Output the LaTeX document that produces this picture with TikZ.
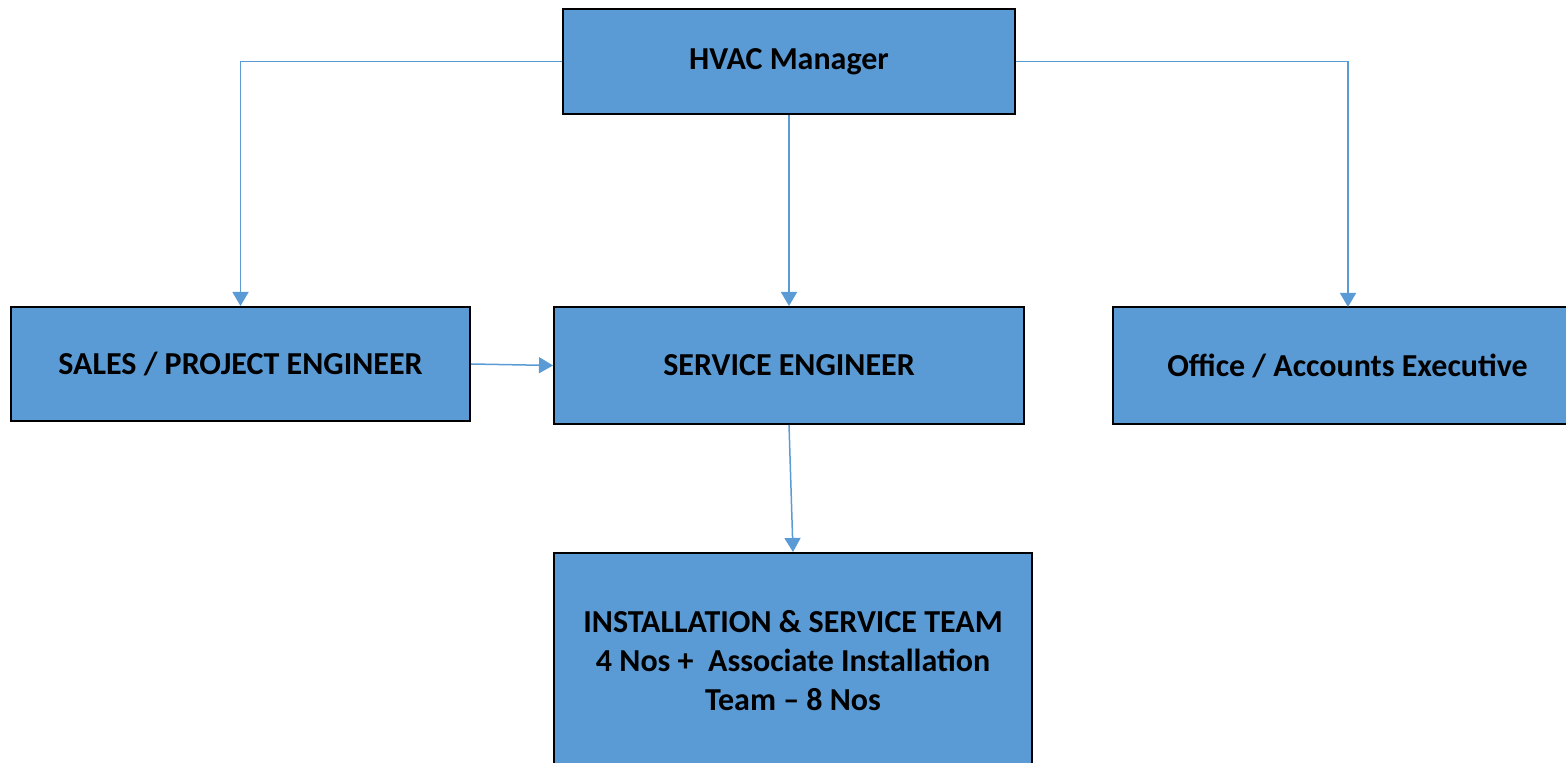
\documentclass[tikz,border=0pt]{standalone}
\usepackage{fontspec}
\setmainfont{Carlito}
\usetikzlibrary{arrows.meta}
\definecolor{boxblue}{HTML}{5B9BD5}
\tikzset{rbox/.style = {shape = rectangle,
                        draw = black,
                        line width = 1pt,
                        fill = boxblue,
                        inner sep = 2pt,
                        align = center,
                        font = \fontsize{16}{19.5}\selectfont\bfseries},
         link/.style = {draw = boxblue,
                        line width = 0.75pt,
                        -{Triangle[width=8pt,length=7pt]}}}

\begin{document}
\begin{tikzpicture}[x=0.5pt,y=-0.5pt]
		\useasboundingbox (0,0) rectangle (1566,763);
		\clip (0,0) rectangle (1566,763);
		\node[rbox, minimum width=226pt, minimum height=52.5pt] (1) at (789,61.5) {HVAC Manager};
		\node[rbox, minimum width=229.5pt, minimum height=57pt] (2) at (240.5,364) {SALES / PROJECT ENGINEER};
		\node[rbox, minimum width=235pt, minimum height=58.5pt] (3) at (789,365.5) {SERVICE ENGINEER};
		\node[rbox, minimum width=234.5pt, minimum height=58.5pt] (4) at (1347.5,365.5) {Office / Accounts Executive};
		\node[rbox, minimum width=239pt, minimum height=108pt] (5) at (793,661) {INSTALLATION \& SERVICE TEAM\\4 Nos +\ \ Associate Installation\\Team – 8 Nos};
		\coordinate (a) at (1348,307);
		\draw[link] (1.west) -| (2.north);
		\draw[link] (1.east) -| (a);
		\draw[link] (1.south) -- (3.north);
		\draw[link] (2.east) -- (3.west);
		\draw[link] (3.south) -- (5.north);
	\end{tikzpicture}
\end{document}
